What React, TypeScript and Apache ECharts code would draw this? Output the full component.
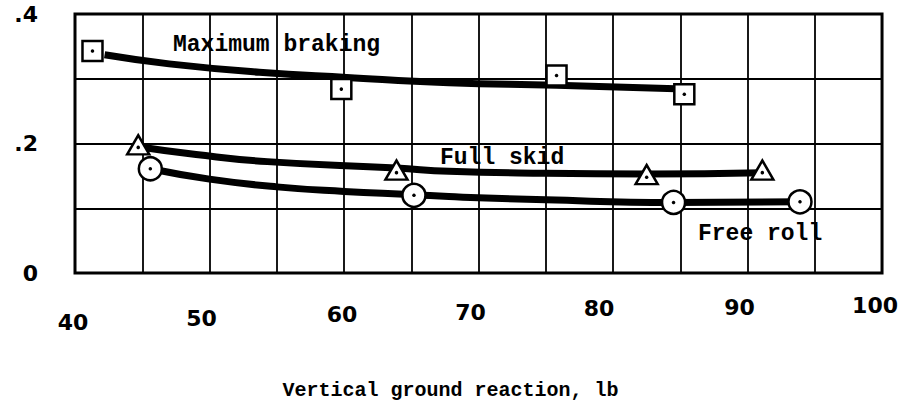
import React, { useEffect, useRef } from "react";
import * as echarts from "echarts";

// Data points (Vertical ground reaction, lb ; coefficient)
const brakingX = [41.3, 59.8, 75.8, 85.3];
const brakingY = [0.343, 0.284, 0.305, 0.276];
const skidX = [44.7, 63.9, 82.5, 91.1];
const skidY = [0.198, 0.159, 0.152, 0.159];
const rollX = [45.6, 65.2, 84.5, 93.9];
const rollY = [0.161, 0.12, 0.109, 0.11];

// Faired curves
const brakingCurveX = [42.2, 47, 53.7, 60.2, 67.8, 75.8, 85.3];
const brakingCurveY = [0.337, 0.323, 0.31, 0.302, 0.294, 0.29, 0.284];
const skidCurveX = [44.7, 49, 54.3, 63.9, 67.8, 75, 82.5, 91.1];
const skidCurveY = [0.195, 0.183, 0.172, 0.162, 0.157, 0.154, 0.153, 0.155];
const rollCurveX = [45.6, 50, 55, 60, 65.2, 67.8, 75, 84.5, 93.9];
const rollCurveY = [0.161, 0.145, 0.133, 0.126, 0.121, 0.118, 0.113, 0.109, 0.11];

const xTickLabels = [40, 50, 60, 70, 80, 90, 100];
const yTickLabels: Record<number, string> = { 0: "0", 2: ".2", 4: ".4" };

const seriesNames = ["Maximum braking", "Full skid", "Free roll"];
const xTitle = "Vertical ground reaction, lb";

const pair = (xs: number[], ys: number[]) => xs.map((x, i) => [x, ys[i]]);

// per-label nudges [top, right] to mimic hand lettering
const xLabelNudge: Record<number, [number, number]> = {
  40: [17, 4],
  50: [13, 16],
  60: [9, 4],
  70: [7, 16],
  80: [3, 28],
  90: [2, 16],
  100: [0, 14],
};

export default function App() {
  const ref = useRef<HTMLDivElement>(null);
  useEffect(() => {
    if (!ref.current) return;
    const chart = echarts.init(ref.current, undefined, { renderer: "svg" });
    const rich: Record<string, any> = {};
    xTickLabels.forEach((v) => {
      const n = xLabelNudge[v];
      rich["t" + v] = {
        fontFamily: "DejaVu Sans",
        fontWeight: "bold",
        fontSize: 22,
        color: "#000",
        padding: [n[0], n[1], 0, 0],
      };
    });
    const lineStyle = { color: "#000", width: 7 };
    const markerBase = {
      itemStyle: {
        color: "#fff",
        borderColor: "#000",
        borderWidth: 2.5,
        opacity: 1,
      },
    };
    chart.setOption({
      animation: false,
      backgroundColor: "#fff",
      grid: {
        left: 75,
        right: 18,
        top: 14,
        bottom: 135,
        show: true,
        borderColor: "#000",
        borderWidth: 3,
        backgroundColor: "transparent",
      },
      xAxis: {
        type: "value",
        min: 40,
        max: 100,
        interval: 5,
        axisLine: { show: false },
        axisTick: { show: false },
        splitLine: { show: true, lineStyle: { color: "#000", width: 1.8 } },
        axisLabel: {
          margin: 21,
          verticalAlign: "top",
          formatter: (v: number) =>
            xTickLabels.includes(Math.round(v)) && Math.round(v) % 10 === 0
              ? `{t${Math.round(v)}|${Math.round(v)}}`
              : "",
          rich,
        },
      },
      yAxis: {
        type: "value",
        min: 0,
        max: 0.4,
        interval: 0.1,
        axisLine: { show: false },
        axisTick: { show: false },
        splitLine: { show: true, lineStyle: { color: "#000", width: 1.8 } },
        axisLabel: {
          margin: 37,
          color: "#000",
          fontFamily: "DejaVu Sans",
          fontWeight: "bold",
          fontSize: 22,
          formatter: (v: number) => yTickLabels[Math.round(v * 10)] ?? "",
        },
      },
      graphic: [
        {
          type: "text",
          left: 173,
          top: 33,
          style: {
            text: seriesNames[0],
            font: "bold 23px 'Liberation Mono'",
            fill: "#000",
          },
        },
        {
          type: "text",
          left: 440,
          top: 146,
          style: {
            text: seriesNames[1],
            font: "bold 23px 'Liberation Mono'",
            fill: "#000",
          },
        },
        {
          type: "text",
          left: 698,
          top: 222,
          style: {
            text: seriesNames[2],
            font: "bold 23px 'Liberation Mono'",
            fill: "#000",
          },
        },
        {
          type: "text",
          left: "center",
          top: 380,
          style: {
            text: xTitle,
            font: "bold 20px 'Liberation Mono'",
            fill: "#000",
          },
        },
      ],
      series: [
        {
          type: "line",
          smooth: true,
          showSymbol: false,
          z: 2,
          lineStyle,
          data: pair(brakingCurveX, brakingCurveY),
        },
        {
          type: "line",
          smooth: true,
          showSymbol: false,
          z: 2,
          lineStyle,
          data: pair(skidCurveX, skidCurveY),
        },
        {
          type: "line",
          smooth: true,
          showSymbol: false,
          z: 2,
          lineStyle,
          data: pair(rollCurveX, rollCurveY),
        },
        {
          type: "scatter",
          name: seriesNames[0],
          symbol: "rect",
          symbolSize: 20,
          z: 3,
          ...markerBase,
          data: pair(brakingX, brakingY),
        },
        {
          type: "scatter",
          name: seriesNames[1],
          symbol: "triangle",
          symbolSize: [22, 19],
          z: 3,
          ...markerBase,
          data: pair(skidX, skidY),
        },
        {
          type: "scatter",
          name: seriesNames[2],
          symbol: "circle",
          symbolSize: 23,
          z: 3,
          ...markerBase,
          data: pair(rollX, rollY),
        },
        {
          type: "scatter",
          symbol: "circle",
          symbolSize: 3.5,
          z: 4,
          itemStyle: { color: "#000", opacity: 1 },
          data: [
            ...pair(brakingX, brakingY),
            ...pair(skidX, skidY).map((p) => [p[0], p[1] - 0.004]),
            ...pair(rollX, rollY),
          ],
        },
      ],
    });
    return () => chart.dispose();
  }, []);
  return (
    <div
      ref={ref}
      style={{ position: "fixed", left: 0, top: 0, width: 901, height: 408 }}
    />
  );
}
